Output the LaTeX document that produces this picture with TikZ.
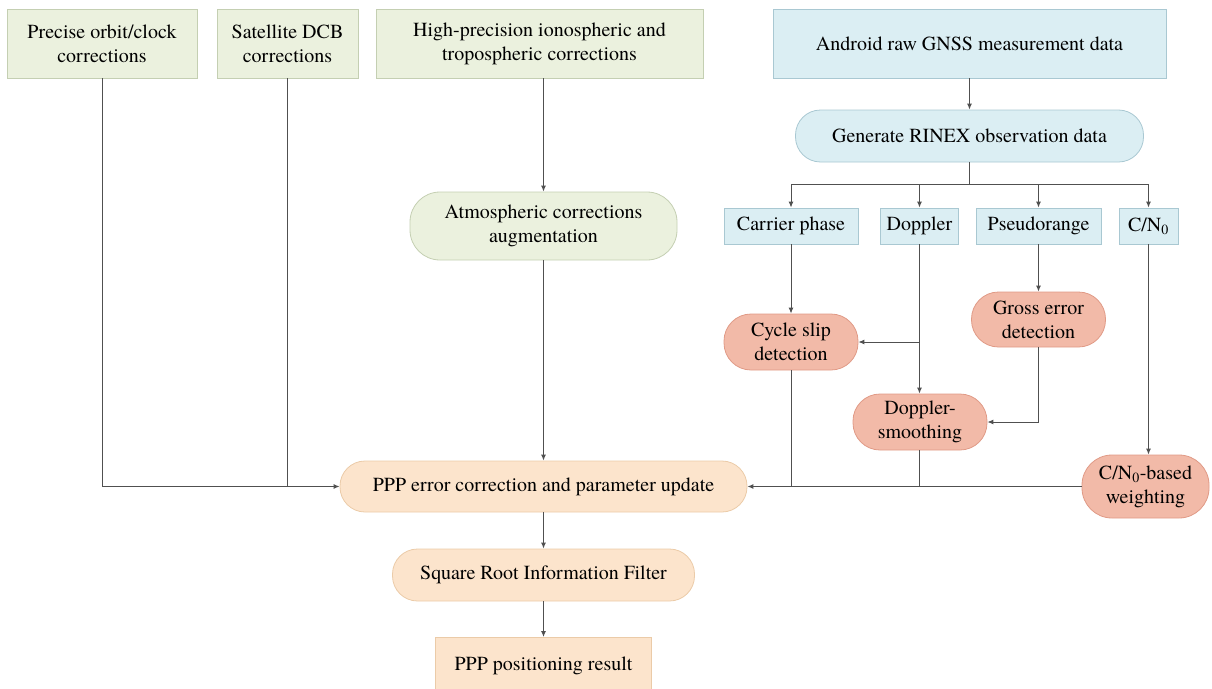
\documentclass[tikz,border=0pt]{standalone}
\usepackage{fontspec}
\setmainfont{TeX Gyre Termes}
\usetikzlibrary{arrows.meta}
\definecolor{gfill}{HTML}{EBF1DE}
\definecolor{gdraw}{HTML}{C4CFB2}
\definecolor{bfill}{HTML}{DBEEF3}
\definecolor{bdraw}{HTML}{A9C8D2}
\definecolor{sfill}{HTML}{F2BAA8}
\definecolor{sdraw}{HTML}{E09A86}
\definecolor{pfill}{HTML}{FCE4CC}
\definecolor{pdraw}{HTML}{EBCBA8}
\definecolor{lne}{HTML}{505050}
\tikzset{
  box/.style={inner sep=0pt, line width=0.8pt, align=center, font=\rmfamily\fontsize{20}{24}\selectfont},
  gbox/.style={box, fill=gfill, draw=gdraw},
  bbox/.style={box, fill=bfill, draw=bdraw},
  sbox/.style={box, fill=sfill, draw=sdraw},
  pbox/.style={box, fill=pfill, draw=pdraw},
  sz/.style 2 args={minimum width=#1pt, minimum height=#2pt},
  pill/.style={rounded corners=#1pt},
  conn/.style={draw=lne, line width=1pt},
  arr/.style={conn, -{Latex[length=6pt,width=5pt]}},
}
\begin{document}
\begin{tikzpicture}[x=1pt,y=-1pt]
\useasboundingbox (0,0) rectangle (1212,688);
% green column
\node[gbox, sz={190}{69}] (prec) at (102,43.5) {Precise orbit/clock\\corrections};
\node[gbox, sz={141}{69}] (dcb) at (287.5,43.5) {Satellite DCB\\corrections};
\node[gbox, sz={327}{69}] (hp) at (539.5,43.5) {High-precision ionospheric and\\tropospheric corrections};
\node[gbox, sz={267}{68}, pill=30] (atm) at (543.5,226) {Atmospheric corrections\\augmentation};
% peach
\node[pbox, sz={407}{51}, pill=25] (ppp) at (543.5,486.5) {PPP error correction and parameter update};
\node[pbox, sz={302}{52}, pill=25] (srif) at (543.5,575) {Square Root Information Filter};
\node[pbox, sz={216}{56}, anchor=north] (res) at (543.5,637) {PPP positioning result};
% blue
\node[bbox, sz={393}{69}] (andr) at (969.5,43.5) {Android raw GNSS measurement data};
\node[bbox, sz={348}{52}, pill=25] (gen) at (969.5,136) {Generate RINEX observation data};
\node[bbox, sz={134}{36}] (cp) at (791,226) {Carrier phase};
\node[bbox, sz={78}{36}] (dop) at (919.5,226) {Doppler};
\node[bbox, sz={125}{36}] (pse) at (1038.5,226) {Pseudorange};
\node[bbox, sz={59}{36}] (cn) at (1148.5,226) {C/N\textsubscript{0}};
% salmon
\node[sbox, sz={134}{56}, pill=27] (cs) at (791,342) {Cycle slip\\detection};
\node[sbox, sz={134}{55}, pill=27] (ge) at (1038.5,319.5) {Gross error\\detection};
\node[sbox, sz={134}{56}, pill=27] (ds) at (920,422) {Doppler-\\smoothing};
\node[sbox, sz={127}{63}, pill=30] (wt) at (1145.5,486.5) {C/N\textsubscript{0}-based\\weighting};
% connectors left
\draw[arr] (prec.south) |- (ppp.west);
\draw[conn] (dcb.south) -- (dcb.south |- ppp.west);
\draw[arr] (atm.north |- hp.south) -- (atm.north);
\draw[arr] (atm.south) -- (ppp.north);
\draw[arr] (ppp.south) -- (srif.north);
\draw[arr] (srif.south) -- (res.north);
% connectors right
\draw[arr] (andr.south -| gen.north) -- (gen.north);
\coordinate (brc) at (969.5,184);
\draw[conn] (gen.south) -- (brc);
\draw[arr] (brc) -| (cp.north);
\draw[arr] (brc) -| (dop.north);
\draw[arr] (brc) -| (pse.north);
\draw[arr] (brc) -| (cn.north);
\draw[arr] (cp.south) -- (cs.north);
\draw[arr] (dop.south) -- (dop.south |- ds.north);
\draw[arr] (dop.south |- cs.east) -- (cs.east);
\draw[arr] (pse.south) -- (ge.north);
\draw[arr] (ge.south) |- (ds.east);
\draw[arr] (cn.south) -- (cn.south |- wt.north);
\draw[arr] (wt.west) -- (ppp.east);
\draw[conn] (cs.south) -- (cs.south |- ppp.east);
\draw[conn] (dop.south |- ds.south) -- (dop.south |- ppp.east);
\end{tikzpicture}
\end{document}
